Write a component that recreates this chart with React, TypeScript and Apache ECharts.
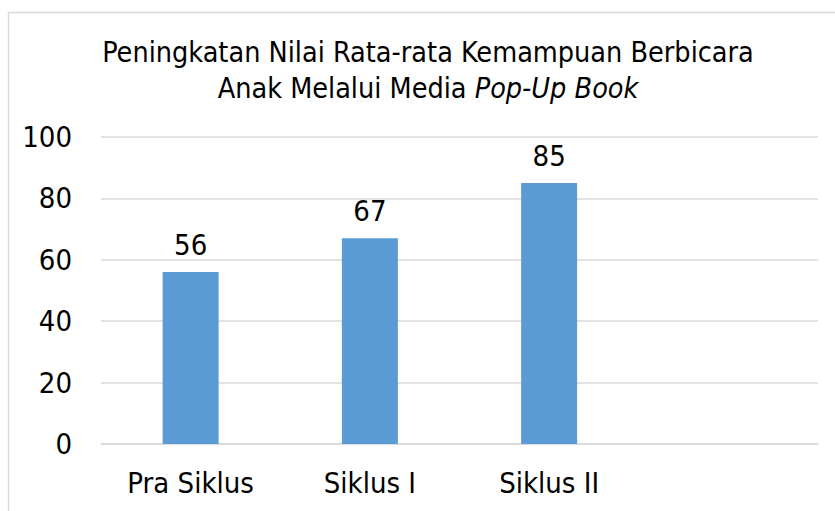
import React, { useEffect, useRef } from "react";
import * as echarts from "echarts";

const categories = ["Pra Siklus", "Siklus I", "Siklus II", ""];
const values = [56, 67, 85, null];
const yTicks = [0, 20, 40, 60, 80, 100];
const titleLine1 = "Peningkatan Nilai Rata-rata Kemampuan Berbicara";
const titleLine2a = "Anak Melalui Media ";
const titleLine2b = "Pop-Up Book";

const FONT = '"DejaVu Sans Condensed", "Liberation Sans", sans-serif';

export default function App() {
  const ref = useRef<HTMLDivElement>(null);
  useEffect(() => {
    if (!ref.current) return;
    const chart = echarts.init(ref.current, undefined, { renderer: "svg" });
    chart.setOption({
      animation: false,
      backgroundColor: "#ffffff",
      textStyle: { fontFamily: FONT },
      graphic: [
        {
          type: "rect",
          shape: { x: 8.5, y: 12.5, width: 900, height: 600 },
          style: { fill: "none", stroke: "#d9d9d9", lineWidth: 1.5 },
          silent: true,
        },
        {
          type: "text",
          x: 428,
          y: 34,
          style: {
            text: `{n|${titleLine1}}\n{n|${titleLine2a}}{i|${titleLine2b}}`,
            align: "center",
            verticalAlign: "top",
            fill: "#000",
            rich: {
              n: { fontFamily: FONT, fontSize: 28.5, lineHeight: 36, fill: "#000", color: "#000" },
              i: { fontFamily: FONT, fontSize: 28.5, lineHeight: 36, fontStyle: "italic", fill: "#000", color: "#000" },
            },
          },
        },
      ],
      grid: { left: 101, right: 17, top: 137, bottom: 67, containLabel: false },
      xAxis: {
        type: "category",
        data: categories,
        axisLine: { show: true, lineStyle: { color: "#d9d9d9", width: 1.5 } },
        axisTick: { show: false },
        axisLabel: { color: "#000", fontSize: 29, fontFamily: FONT, margin: 24 },
      },
      yAxis: {
        type: "value",
        min: yTicks[0],
        max: yTicks[yTicks.length - 1],
        interval: 20,
        axisLine: { show: false },
        axisTick: { show: false },
        splitLine: { lineStyle: { color: "#d9d9d9", width: 1.5 } },
        axisLabel: { color: "#000", fontSize: 29, fontFamily: FONT, margin: 29 },
      },
      series: [
        {
          type: "bar",
          data: values,
          barWidth: 56,
          itemStyle: { color: "#5b9bd5" },
          label: {
            show: true,
            position: "top",
            distance: 13,
            color: "#000",
            fontSize: 29,
            fontFamily: FONT,
          },
        },
      ],
    });
    return () => chart.dispose();
  }, []);
  return (
    <div
      ref={ref}
      style={{ position: "fixed", left: 0, top: 0, width: 835, height: 511 }}
    />
  );
}
